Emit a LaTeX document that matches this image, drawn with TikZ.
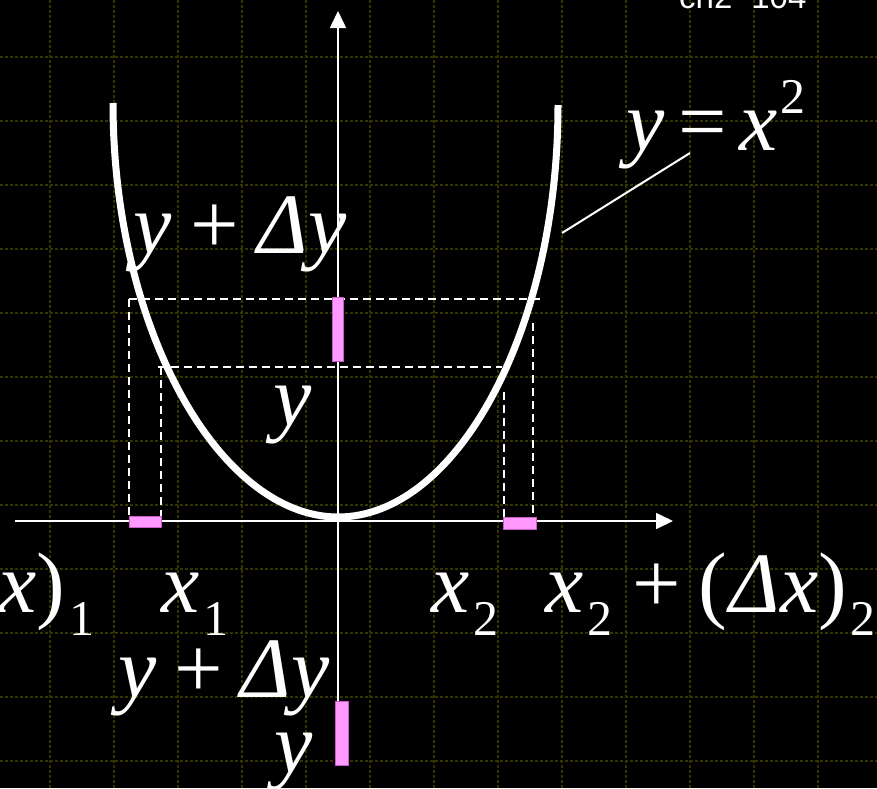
\documentclass[tikz,border=0pt]{standalone}
\usepackage{fontspec}
\setmainfont{Liberation Serif}
\newfontfamily\sansf{Liberation Sans}
\usetikzlibrary{arrows.meta}
\definecolor{gridc}{RGB}{52,52,0}
\definecolor{barpink}{RGB}{255,153,255}
\definecolor{bardark}{RGB}{200,90,200}
\newcommand\bigf{\fontsize{86}{100}\selectfont}
\newcommand\smallf{\fontsize{50}{60}\selectfont}
\newcommand\subs[1]{\hspace{4pt}\raisebox{-23pt}{\smallf #1}}
\newcommand\sups[1]{\hspace{2pt}\raisebox{37pt}{\smallf #1}}
\begin{document}
\begin{tikzpicture}[x=1pt,y=-1pt,
  lbl/.style={inner sep=0pt, anchor=base west, text=white, font=\bigf},
  gridline/.style={gridc, line width=1.4pt, dash pattern=on 3pt off 2pt},
  guide/.style={white, line width=2pt, dash pattern=on 8pt off 5pt},
  axis/.style={white, line width=1.6pt, -{Triangle[length=17pt,width=16pt]}},
  curve/.style={white, line width=7pt},
  bar/.style={fill=barpink, draw=bardark, line width=0.8pt}]
\fill[black] (0,0) rectangle (877,788);
\useasboundingbox (0,0) rectangle (877,788);
\begin{scope}
\clip (0,0) rectangle (877,788);
% grid
\foreach \gx in {50,114,...,818} \draw[gridline] (\gx,0) -- (\gx,788);
\foreach \gy in {57,121,...,761} \draw[gridline] (0,\gy) -- (877,\gy);
% dashed guides
\draw[guide] (129,299) -- (540,299);
\draw[guide] (158,367) -- (502,367);
\draw[guide] (129,299) -- (129,521);
\draw[guide] (161,367) -- (161,521);
\draw[guide] (504,392) -- (504,521);
\draw[guide] (533,323) -- (533,521);
% axes
\coordinate (xs) at (15,521);
\coordinate (xe) at (673,521);
\coordinate (ys) at (338,701);
\coordinate (ye) at (338,11);
\draw[axis] (xs) -- (xe);
\draw[axis] (ys) -- (ye);
% parabola
\draw[curve] (113,103) .. controls (113,330) and (220,517) .. (338,517)
  .. controls (456,517) and (558,332) .. (558,105);
% pointer
\coordinate (pc) at (562,233);
\coordinate (pl) at (690,153);
\draw[white, line width=2pt] (pc) -- (pl);
% bars
\draw[bar] (332,297) rectangle (343,361);
\draw[bar] (335,701) rectangle (348,765);
\draw[bar] (129,516) rectangle (161,527);
\draw[bar] (503,517) rectangle (536,529);
% labels
\node[lbl] (fx) at (626,150) {\textit{y}\hspace{14pt}=\hspace{13pt}\textit{x}\sups{2}};
\node[lbl] (ydy1) at (133,253) {\textit{y}\hspace{19pt}+\hspace{19pt}\textit{Δy}};
\node[lbl] (y1) at (273,425) {\textit{y}};
\node[lbl] (xl) at (-2,612) {\textit{x})\subs{1}};
\node[lbl] (x1) at (161,612) {\textit{x}\subs{1}};
\node[lbl] (x2) at (431,612) {\textit{x}\subs{2}};
\node[lbl] (x2d) at (545,612) {\textit{x}\subs{2}\hspace{20pt}+\hspace{18pt}(\hspace{2pt}\textit{Δx})\subs{2}};
\node[lbl] (ydy2) at (118,697) {\textit{y}\hspace{18pt}+\hspace{18pt}\textit{Δy}};
\node[lbl] (y2) at (274,772) {\textit{y}};
\node[inner sep=0pt, anchor=base west, text=white, font=\sansf\fontsize{33}{40}\selectfont] (ch) at (679,8) {ch2\hspace{19pt}104};
\end{scope}
\end{tikzpicture}
\end{document}
